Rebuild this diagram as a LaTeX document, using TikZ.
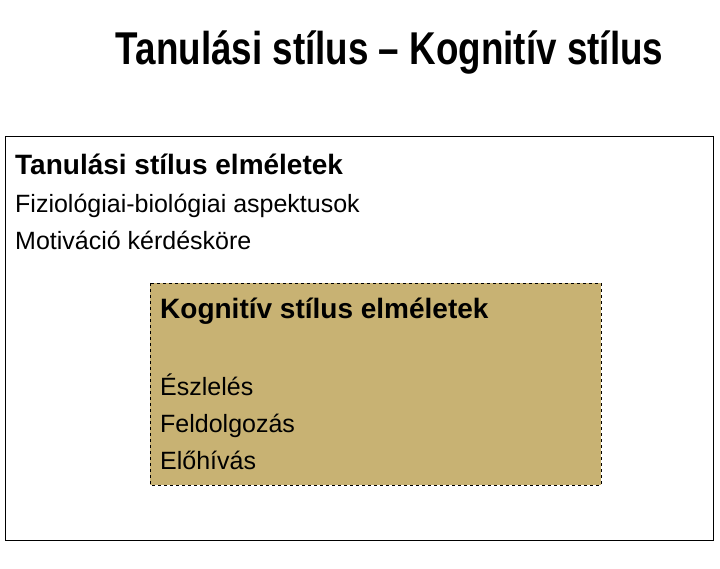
\documentclass[tikz,border=0pt]{standalone}
\usepackage{fontspec}
\setmainfont{Liberation Sans}
\newfontfamily\titlefont{Liberation Sans}[FakeStretch=0.80]
\definecolor{boxtan}{RGB}{200,178,115}

\begin{document}
\begin{tikzpicture}[x=1pt, y=-1pt,
  txt/.style = {anchor = base west, inner sep = 0pt},
  head/.style = {txt, font = \fontsize{28}{30}\selectfont\bfseries},
  item/.style = {txt, font = \fontsize{25}{27}\selectfont}]
\useasboundingbox (0,0) rectangle (720,569);
\node [anchor = base, inner sep = 0pt, font = \titlefont\fontsize{46}{48}\selectfont\bfseries] (title) at (389.5,65) {Tanulási stílus – Kognitív stílus};
\draw [line width = 1pt] (5,137) rectangle (713,540);
\node [head] (learn) at (15,175) {Tanulási stílus elméletek};
\node [item] (bio) at (15,213) {Fiziológiai-biológiai aspektusok};
\node [item] (motiv) at (15,250) {Motiváció kérdésköre};
\draw [fill = boxtan, dashed, line width = 0.8pt] (150,283) rectangle (601,485);
\node [head] (cogn) at (160,319) {Kognitív stílus elméletek};
\node [item] (perc) at (160,395) {Észlelés};
\node [item] (proc) at (160,432) {Feldolgozás};
\node [item] (recall) at (160,469) {Előhívás};
\end{tikzpicture}
\end{document}
